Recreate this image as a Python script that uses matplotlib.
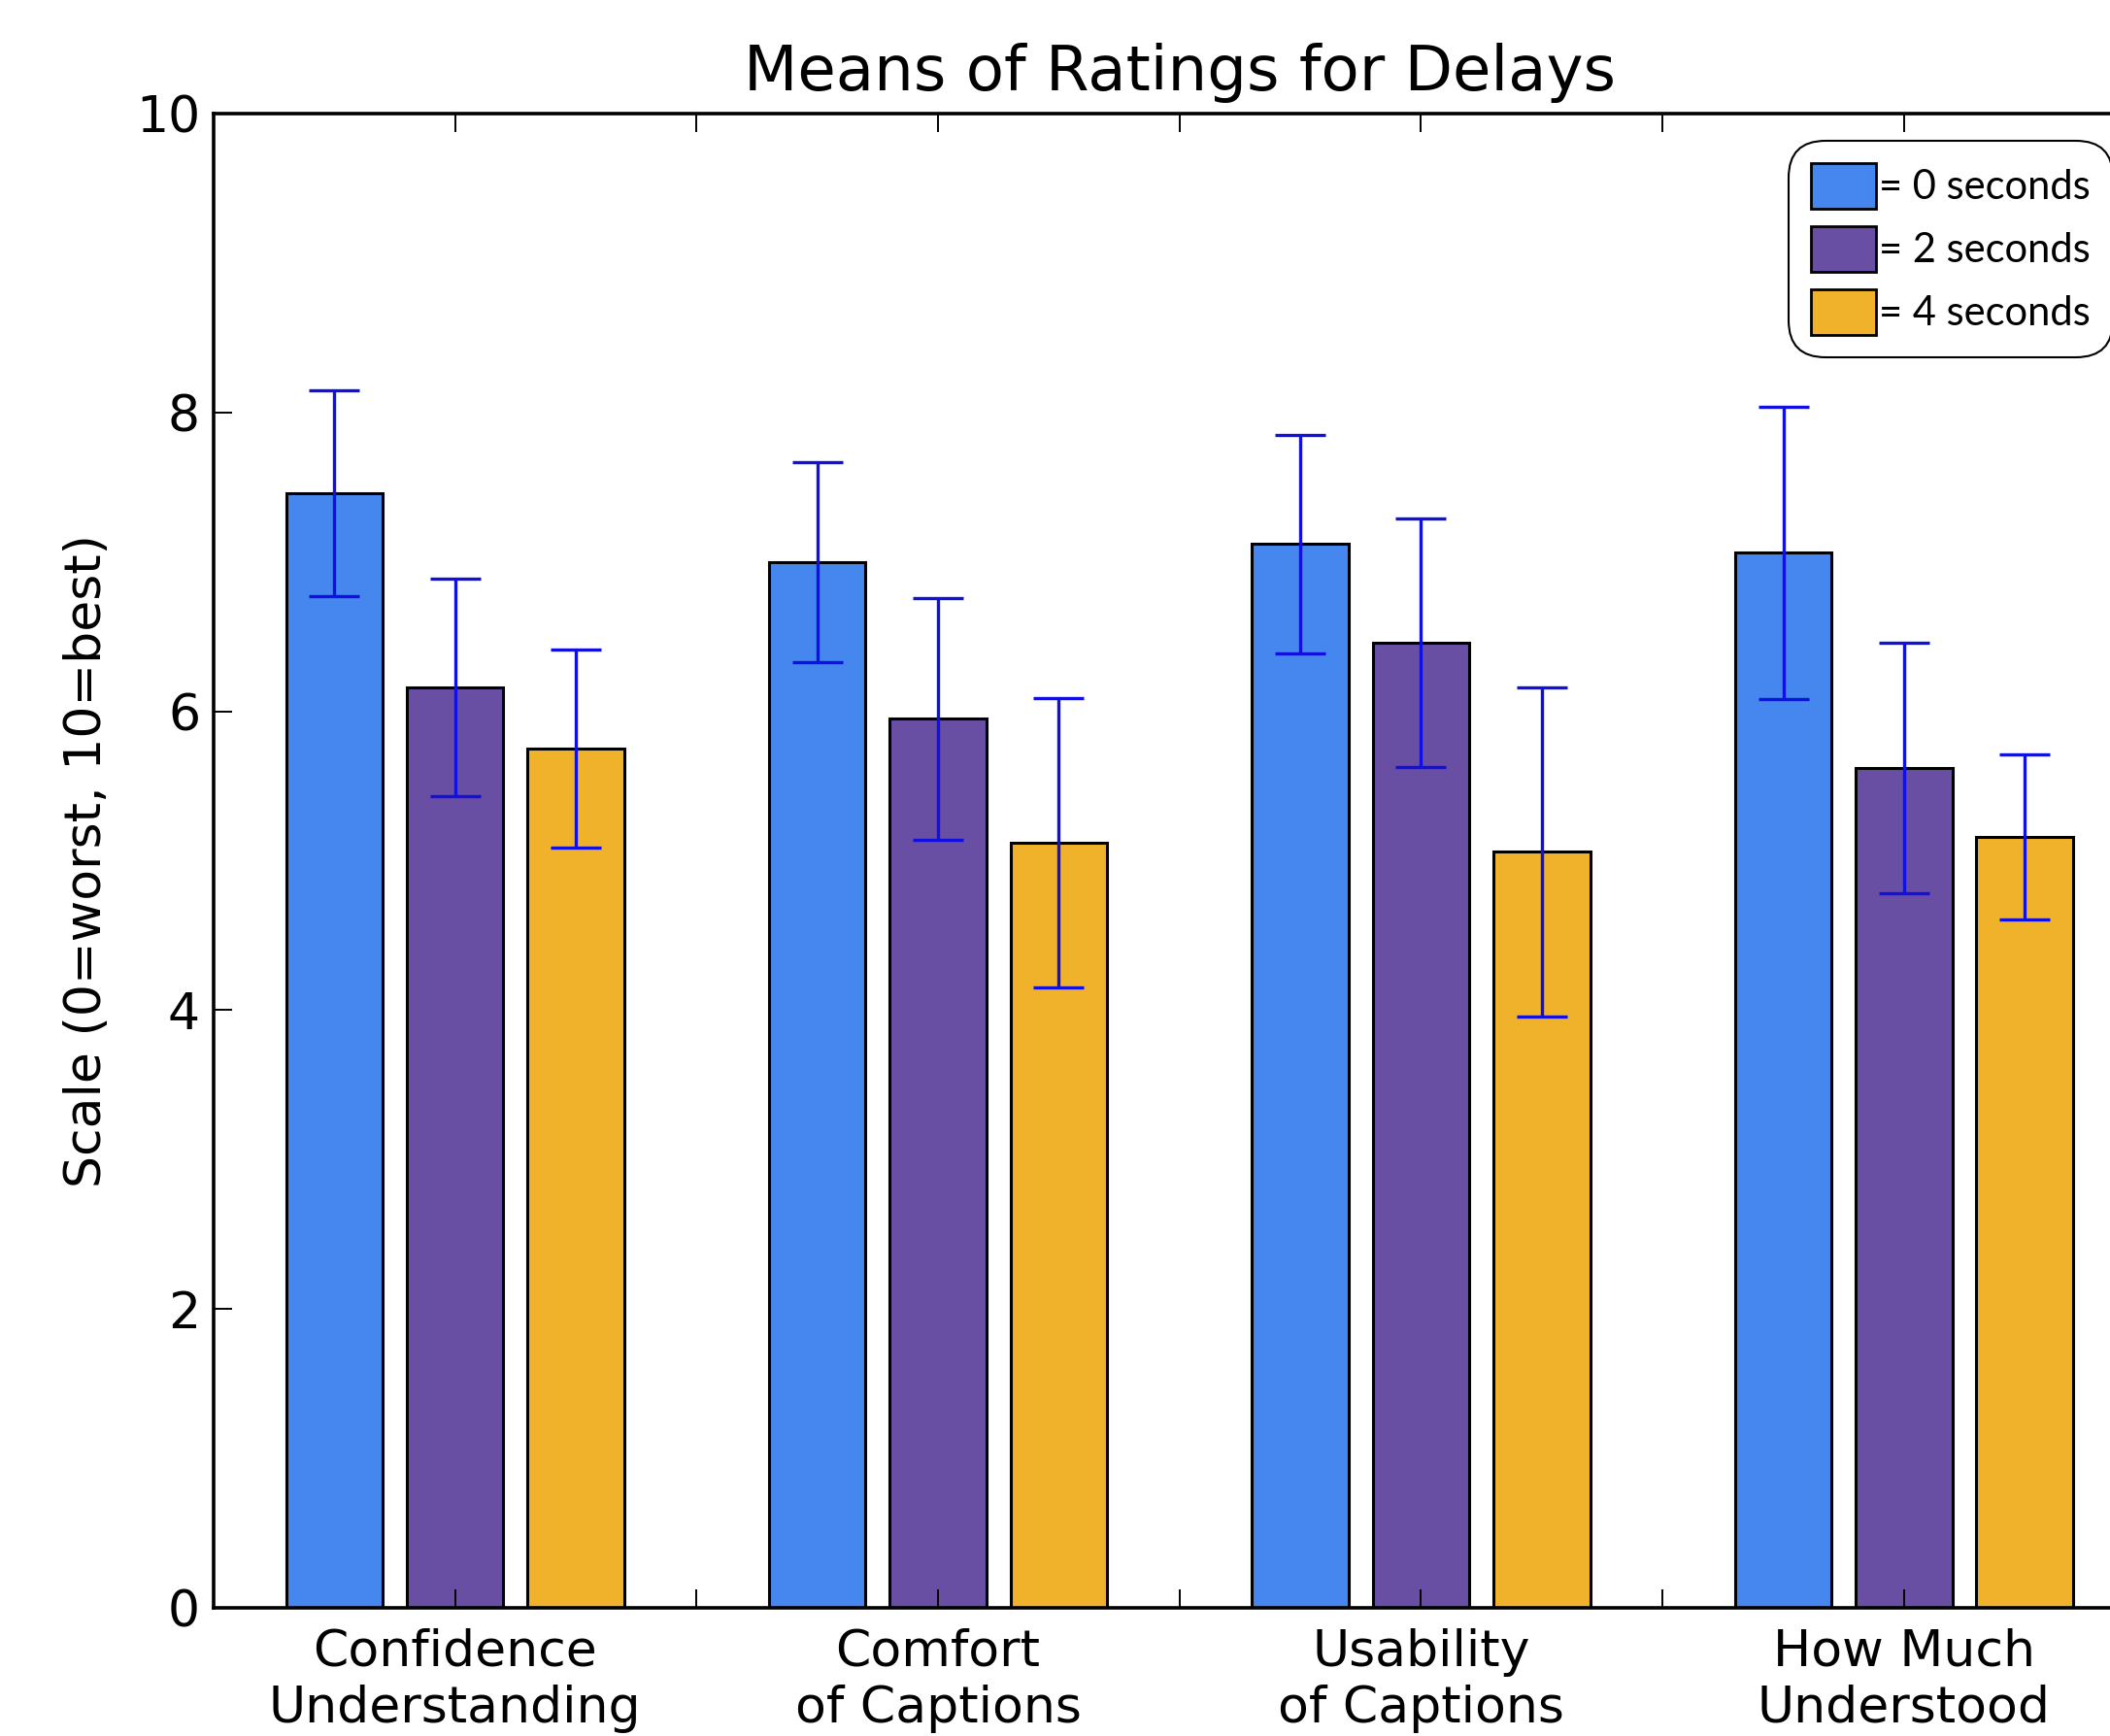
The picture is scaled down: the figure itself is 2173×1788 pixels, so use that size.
import numpy as np
import matplotlib
matplotlib.use('Agg')
import matplotlib.pyplot as plt

# data
categories = ['Confidence\nUnderstanding', 'Comfort\nof Captions',
              'Usability\nof Captions', 'How Much\nUnderstood']
delay_labels = ['= 0 seconds', '= 2 seconds', '= 4 seconds']
means_0s = [7.46, 7.00, 7.12, 7.06]
means_2s = [6.16, 5.95, 6.46, 5.62]
means_4s = [5.75, 5.12, 5.06, 5.16]
err_0s = [0.69, 0.67, 0.73, 0.98]
err_2s = [0.73, 0.81, 0.83, 0.84]
err_4s = [0.66, 0.97, 1.10, 0.55]

colors = ['#4587ee', '#684fa3', '#f0b22a']

fig = plt.figure(figsize=(21.73, 17.88), dpi=100)
# axes runs past the right edge of the image, like the cropped original
ax = fig.add_axes([0.10124, 0.07383, 0.91559, 0.86074])

group_x = np.arange(1, 2 * len(categories), 2)
width = 0.4
offsets = [-0.5, 0.0, 0.5]
series = [(means_0s, err_0s), (means_2s, err_2s), (means_4s, err_4s)]

bars = []
for (vals, errs), off, col in zip(series, offsets, colors):
    b = ax.bar(group_x + off, vals, width, yerr=errs, color=col,
               edgecolor='black', linewidth=2.2,
               error_kw=dict(ecolor='#1010e0', elinewidth=2.4,
                             capsize=18.5, capthick=2.4))
    bars.append(b)

ax.set_xlim(0, 8)
ax.set_ylim(0, 10)
ax.set_yticks(range(0, 11, 2))
ax.set_xticks(range(1, 8))
xlabels = []
for i in range(1, 8):
    xlabels.append(categories[(i - 1) // 2] if i % 2 == 1 else '')
ax.set_xticklabels(xlabels)

ax.tick_params(direction='in', length=13.5, width=1.4, labelsize=37.5,
               top=True, right=True)
ax.tick_params(axis='y', pad=10)
ax.tick_params(axis='x', pad=15)
for sp in ax.spines.values():
    sp.set_linewidth(2.6)

ax.set_title('Means of Ratings for Delays', fontsize=46.3, pad=17)
ax.set_ylabel('Scale (0=worst, 10=best)', fontsize=37.5)
ax.yaxis.set_label_coords(-0.053, 0.5)

leg = ax.legend(bars, delay_labels, loc='upper left',
                bbox_to_anchor=(1842 / 2173, 1 - 145 / 1788),
                bbox_transform=fig.transFigure, borderaxespad=0,
                prop={'family': 'Lato', 'size': 30},
                handlelength=1.6, handleheight=1.36, handletextpad=0.08,
                labelspacing=0.43, borderpad=0.55,
                fancybox=True, framealpha=1, edgecolor='black')
frame = leg.get_frame()
frame.set_linewidth(1.5)
frame.set_boxstyle('round', pad=0, rounding_size=0.9)
# legend swatches without error bars
for h in leg.legend_handles:
    h.set_linewidth(2.0)

fig.savefig('out.png', dpi=100)
